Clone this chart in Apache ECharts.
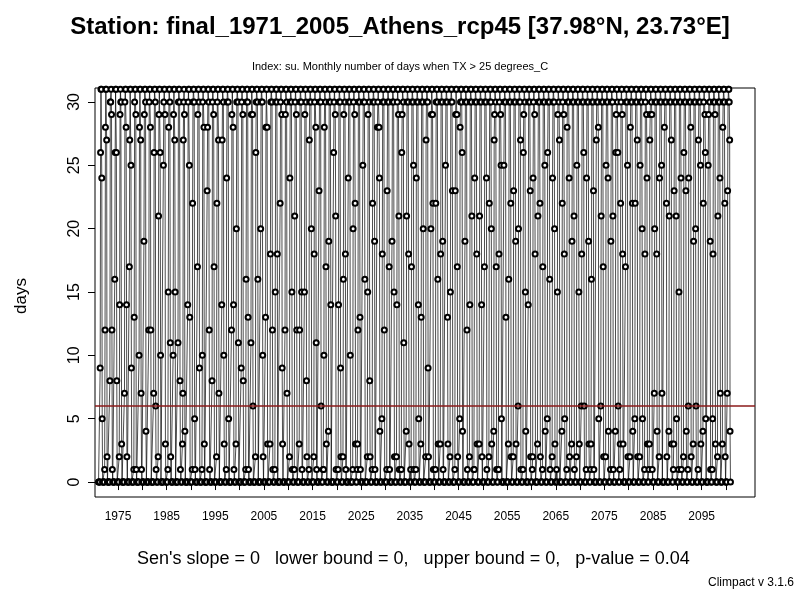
<!DOCTYPE html>
<html>
<head>
<meta charset="utf-8">
<script src="https://cdn.jsdelivr.net/npm/echarts@6/dist/echarts.min.js"></script>
<style>html,body{margin:0;padding:0;background:#fff}#chart{width:800px;height:600px}</style>
</head>
<body>
<div id="chart"></div>
<script>
// monthly "su" days per year 1971-2100
var firstYear = 1971;
var JAN = "0 0 0 0 0 0 0 0 0 0  0 0 0 0 0 0 0 0 0 0  0 0 0 0 0 0 0 0 0 0  0 0 0 0 0 0 0 0 0 0  0 0 0 0 0 0 0 0 0 0  0 0 0 0 0 0 0 0 0 0  0 0 0 0 0 0 0 0 0 0  0 0 0 0 0 0 0 0 0 0  0 0 0 0 0 0 0 0 0 0  0 0 0 0 0 0 0 0 0 0  0 0 0 0 0 0 0 0 0 0  0 0 0 0 0 0 0 0 0 0  0 0 0 0 0 0 0 0 0 0";
var FEB = JAN;
var MAR = "0 0 0 0 0 0 0 0 0 0  0 0 0 0 0 0 0 0 0 0  0 0 0 0 0 0 0 0 0 0  0 0 0 0 0 0 0 0 0 0  0 0 0 0 0 0 1 0 0 0  0 0 0 1 0 0 0 0 0 0  0 0 0 0 1 0 0 0 0 0  0 0 0 0 0 0 0 1 0 0  0 0 1 0 0 0 0 0 0 1  0 0 0 0 1 0 0 0 0 0  0 1 0 0 0 0 0 1 0 0  0 0 0 1 0 0 0 0 1 0  0 1 0 0 0 0 1 0 0 0";
var APR = "0 1 0 0 2 0 0 1 0 0  0 0 2 0 1 0 0 3 0 1  0 1 0 0 2 0 1 0 3 0  1 0 2 0 0 3 1 0 0 2  1 3 0 1 2 0 1 4 0 1  2 0 1 3 0 2 1 0 5 1  0 2 1 4 0 1 3 2 0 1  3 0 2 1 5 0 2 1 3 0  2 4 1 0 3 2 6 1 0 2  3 1 5 2 0 4 1 3 2 6  1 3 0 6 2 1 4 3 0 2  5 2 1 3 7 2 0 4 3 1  2 6 3 1 4 0 5 2 3 7";
var MAY = "9 12 8 16 14 7 17 13 10 19  12 7 21 25 15 10 11 7 14 22  17 10 23 8 22 14 24 12 20 9  16 11 26 20 13 18 15 22 12 24  21 12 15 27 18 23 10 19 26 14  16 24 20 12 25 15 22 28 18 23  19 14 26 21 17 24 13 27 20 22  18 25 15 23 28 19 14 24 21 17  22 27 18 25 16 23 20 26 14 24  21 17 26 24 15 22 28 19 25 18  24 16 27 21 25 19 26 22 17 28  22 25 18 27 20 24 28 21 23 15  26 24 19 27 22 25 18 21 28 23";
var JUN = "26 28 30 26 29 30 27 30 28 29  30 26 29 30 28 29 30 27 30 30  29 30 28 30 30 27 30 29 30 30  30 29 30 30 28 30 30 30 29 30  30 30 29 30 30 30 28 30 30 30  29 30 30 30 30 29 30 30 30 30  30 30 29 30 30 30 30 30 29 30  30 30 30 29 30 30 30 30 30 30  30 29 30 30 30 30 30 29 30 30  30 30 30 30 29 30 30 30 30 30  30 30 30 30 30 30 29 30 30 30  30 30 30 29 30 30 30 30 30 30  30 30 30 30 30 29 30 30 30 30";
var JUL = "31 31 30 31 31 31 31 31 31 31  31 31 31 31 31 31 31 30 31 31  31 31 31 31 31 31 31 31 31 31  31 31 31 31 31 31 31 31 31 31  31 31 31 31 31 31 31 31 31 31  31 31 31 31 31 31 31 31 31 31  31 31 31 31 31 31 31 31 31 31  31 31 31 31 31 31 31 31 31 31  31 31 31 31 31 31 31 31 31 31  31 31 31 31 31 31 31 31 31 31  31 31 31 31 31 31 31 31 31 31  31 31 31 31 31 31 31 31 31 31  31 31 31 31 31 31 31 31 31 31";
var AUG = "31 31 31 31 30 31 31 31 31 31  31 31 31 31 31 31 31 31 31 31  31 31 31 31 31 31 31 31 31 31  31 31 31 31 31 31 31 31 31 31  31 31 31 31 31 31 31 31 31 31  31 31 31 31 31 31 31 31 31 31  31 31 31 31 31 31 31 31 31 31  31 31 31 31 31 31 31 31 31 31  31 31 31 31 31 31 31 31 31 31  31 31 31 31 31 31 31 31 31 31  31 31 31 31 31 31 31 31 31 31  31 31 31 31 31 31 31 31 31 31  31 31 31 31 31 31 31 31 31 31";
var SEP = "24 27 29 26 30 28 25 29 27 30  28 30 26 29 30 27 30 29 25 30  30 28 30 29 27 30 30 28 30 29  30 29 30 30 28 30 30 29 30 30  29 30 30 30 28 30 30 30 29 30  30 30 29 30 30 30 30 28 30 30  30 29 30 30 30 30 30 30 29 30  30 30 30 29 30 30 30 30 30 30  30 30 29 30 30 30 30 30 30 29  30 30 30 30 30 29 30 30 30 30  30 30 30 30 30 30 30 29 30 30  30 30 29 30 30 30 30 30 30 30  30 30 30 30 29 30 30 30 30 30";
var OCT = "5 2 12 8 3 14 9 1 7 4  12 6 10 3 11 15 8 4 13 5  9 3 12 17 7 10 5 14 11 8  13 6 16 10 3 12 18 9 7 15  12 15 8 20 11 6 17 14 21 9  18 10 22 13 16 8 19 24 12 17  15 21 11 18 25 14 20 9 22 16  19 13 23 17 26 12 21 18 14 24  20 17 25 13 22 19 27 15 23 18  22 25 16 20 27 18 24 21 15 26  19 23 28 17 24 21 26 18 25 22  27 20 24 29 18 25 22 27 21 24  23 28 20 25 26 19 29 24 22 27";
var NOV = "0 0 1 0 0 2 0 0 1 0  0 1 0 0 2 0 1 0 0 1  0 0 1 0 0 3 0 1 0 0  1 0 0 2 0 1 0 3 0 1  0 1 2 0 1 0 3 0 1 2  1 0 3 1 0 2 1 4 0 1  2 1 0 3 1 5 0 2 1 3  1 3 0 2 4 1 0 3 2 1  3 1 5 0 2 3 1 4 2 0  2 4 1 3 0 5 2 1 3 6  3 1 5 2 4 1 6 3 2 4  2 5 3 1 4 7 2 3 5 1  4 2 6 3 5 1 3 7 2 4";
var DEC = JAN;
var refLevel = 6;
var xTicks = [1975,1980,1985,1990,1995,2000,2005,2010,2015,2020,2025,2030,2035,2040,2045,2050,2055,2060,2065,2070,2075,2080,2085,2090,2095,2100];
var xLabels = [1975,1985,1995,2005,2015,2025,2035,2045,2055,2065,2075,2085,2095];
var yTicks = [0,5,10,15,20,25,30];

function parse(s) { return s.trim().split(/\s+/).map(Number); }
var months = [JAN,FEB,MAR,APR,MAY,JUN,JUL,AUG,SEP,OCT,NOV,DEC].map(parse);
var data = [];
for (var i = 0; i < months[0].length; i++) {
    for (var m = 0; m < 12; m++) {
        data.push([firstYear + i + m / 12, months[m][i]]);
    }
}

var font = 'Liberation Sans';
var chart = echarts.init(document.getElementById('chart'), null, { renderer: 'canvas' });
chart.setOption({
    animation: false,
    backgroundColor: '#fff',
    textStyle: { fontFamily: font },
    grid: { left: 95, right: 45, top: 88, bottom: 103, show: true, borderColor: '#000', borderWidth: 1, backgroundColor: 'transparent' },
    xAxis: {
        type: 'value', min: 1970.27, max: 2105.96,
        axisLine: { show: false },
        splitLine: { show: false },
        axisTick: { show: true, inside: false, length: 8, lineStyle: { color: '#000' }, customValues: xTicks },
        axisLabel: { color: '#000', fontSize: 12, margin: 14, customValues: xLabels, fontFamily: font,
            formatter: function (v) { return String(v); } }
    },
    yAxis: {
        type: 'value', min: -1.18, max: 31.1,
        axisLine: { show: false },
        splitLine: { show: false },
        axisTick: { show: true, length: 7, lineStyle: { color: '#000' }, customValues: yTicks },
        axisLabel: { color: '#000', fontSize: 16, rotate: 90, margin: 12, customValues: yTicks, fontFamily: font }
    },
    series: [{
        type: 'line',
        data: data,
        symbol: 'emptyCircle',
        symbolSize: 5,
        showAllSymbol: true,
        lineStyle: { color: '#000', width: 0.7 },
        itemStyle: { color: '#000', borderWidth: 0.8 },
        markLine: {
            silent: true, symbol: 'none', label: { show: false },
            lineStyle: { color: '#8b1a1a', width: 1.5, type: 'solid' },
            data: [{ yAxis: refLevel }]
        }
    }],
    graphic: [
        { type: 'text', left: 'center', top: 15, style: { text: 'Station: final_1971_2005_Athens_rcp45 [37.98°N, 23.73°E]', font: 'bold 24px ' + font, fill: '#000' } },
        { type: 'text', left: 'center', top: 61, style: { text: 'Index: su. Monthly number of days when TX > 25 degrees_C', font: '11px ' + font, fill: '#000' } },
        { type: 'text', left: 13, top: 278, rotation: Math.PI / 2, style: { text: 'days', font: '17px ' + font, fill: '#000' } },
        { type: 'text', left: 137, top: 550, style: { text: "Sen's slope = 0   lower bound = 0,   upper bound = 0,   p-value = 0.04", font: '18px ' + font, fill: '#000' } },
        { type: 'text', right: 6, top: 577, style: { text: 'Climpact v 3.1.6', font: '12px ' + font, fill: '#000' } }
    ]
});
</script>
</body>
</html>
